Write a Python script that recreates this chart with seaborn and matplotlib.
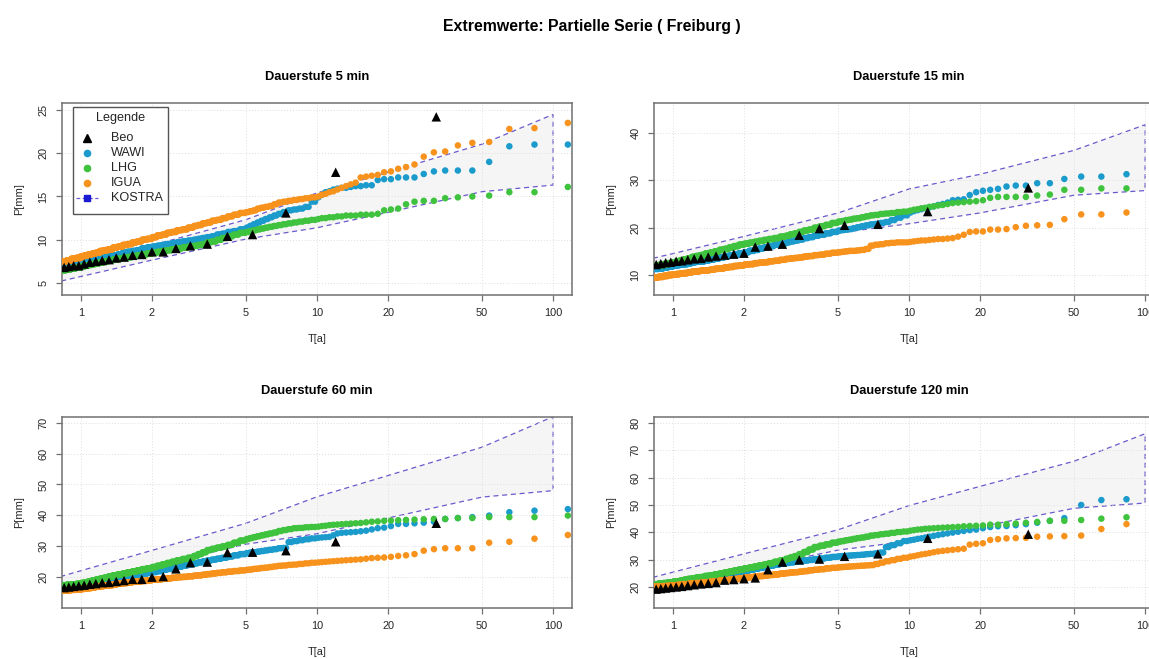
import numpy as np
import matplotlib
matplotlib.use("Agg")
import matplotlib.pyplot as plt
from matplotlib.lines import Line2D
from matplotlib.patches import Rectangle
from matplotlib.ticker import NullLocator
import seaborn as sns

# ------------------------------------------------------------------
# Data
# ------------------------------------------------------------------
durations = ["5 min", "15 min", "60 min", "120 min"]

# Model series (WAWI, LHG, IGUA): 300 years of partial series.
# Ranks 1-2 lie beyond the 120-year axis limit, listing starts at rank 3.
SIM_YEARS = 300.0
FIRST_RANK = 3
# ranks 3..30 are listed one by one ("tail"), ranks 31..362 as runs of
# equal depth ("runs") with these lengths
run_lengths = [2] * 15 + [4] * 10 + [6, 6, 6, 6, 6, 6, 7, 7] + \
              [8, 8, 8, 8, 9, 9] + [10] * 10 + [15, 15, 16, 16]

# Observations (Beo): 19 years
OBS_YEARS = 19.0

# --- Dauerstufe 5 min ---
wawi_tail_5 = [21.0, 21.0, 20.8, 19.0, 18.0, 18.0, 18.0, 17.9, 17.6, 17.2, 17.2, 17.2, 17.0, 17.0,
               16.9, 16.3, 16.3, 16.2, 16.2, 16.1, 16.0, 16.0, 15.9, 15.8, 15.6, 15.5, 15.2, 14.9]
wawi_runs_5 = [14.4, 13.8, 13.6, 13.5, 13.4, 13.2, 13.0, 12.8, 12.6, 12.4, 12.2, 12.0, 11.8, 11.6, 11.4,
               11.2, 11.0, 10.9, 10.7, 10.6, 10.4, 10.3, 10.2, 10.1, 10.0,
               9.9, 9.8, 9.7, 9.6, 9.5, 9.4, 9.3, 9.2,
               9.1, 9.0, 8.8, 8.7, 8.6, 8.5,
               8.3, 8.2, 8.1, 8.0, 7.9, 7.7, 7.6, 7.5, 7.4, 7.3,
               7.2, 7.1, 7.0, 6.9]
lhg_tail_5 = [16.1, 15.5, 15.5, 15.1, 15.0, 14.9, 14.8, 14.5, 14.5, 14.4, 14.1, 13.6, 13.5, 13.4,
              13.0, 12.9, 12.9, 12.9, 12.8, 12.8, 12.8, 12.7, 12.7, 12.6, 12.6, 12.5, 12.5, 12.4]
lhg_runs_5 = [12.3, 12.2, 12.1, 12.0, 11.9, 11.8, 11.7, 11.6, 11.5, 11.4, 11.3, 11.2, 11.1, 11.0, 10.9,
              10.8, 10.6, 10.4, 10.2, 10.0, 9.8, 9.7, 9.5, 9.4, 9.3,
              9.2, 9.1, 9.0, 8.9, 8.8, 8.7, 8.6, 8.5,
              8.4, 8.3, 8.2, 8.1, 8.0, 7.9,
              7.8, 7.7, 7.6, 7.5, 7.4, 7.3, 7.2, 7.1, 7.0, 6.9,
              6.8, 6.7, 6.6, 6.5]
igua_tail_5 = [23.5, 22.9, 22.8, 21.3, 21.2, 20.9, 20.2, 20.1, 19.6, 18.7, 18.4, 18.2, 17.9, 17.8,
               17.5, 17.4, 17.3, 17.2, 16.6, 16.4, 16.2, 16.0, 15.8, 15.6, 15.5, 15.3, 15.2, 15.0]
igua_runs_5 = [14.9, 14.8, 14.7, 14.6, 14.5, 14.4, 14.3, 14.1, 13.9, 13.8, 13.7, 13.6, 13.4, 13.3, 13.2,
               13.1, 12.9, 12.7, 12.5, 12.3, 12.2, 12.0, 11.9, 11.7, 11.6,
               11.4, 11.2, 11.1, 10.9, 10.8, 10.6, 10.5, 10.3,
               10.1, 10.0, 9.8, 9.7, 9.5, 9.4,
               9.2, 9.1, 8.9, 8.8, 8.7, 8.5, 8.4, 8.3, 8.2, 8.1,
               7.9, 7.8, 7.6, 7.5]
beo_5 = [24.2, 17.8, 13.1, 10.6, 10.4, 9.5, 9.3, 9.0, 8.6, 8.6, 8.3, 8.2, 8.0, 7.9, 7.7, 7.6,
         7.5, 7.4, 7.2, 7.0, 7.0, 6.9, 6.8]

# --- Dauerstufe 15 min ---
wawi_tail_15 = [31.6, 31.3, 30.8, 30.8, 30.3, 29.4, 29.4, 28.9, 28.9, 28.7, 28.2, 28.0, 27.8, 27.5,
                26.9, 26.0, 25.9, 25.8, 25.3, 25.0, 24.8, 24.5, 24.3, 24.1, 23.9, 23.7, 23.5, 23.2]
wawi_runs_15 = [22.6, 22.1, 21.6, 21.2, 21.0, 20.8, 20.7, 20.5, 20.3, 20.1, 19.9, 19.7, 19.6, 19.5, 19.4,
                19.1, 18.8, 18.5, 18.3, 18.0, 17.8, 17.5, 17.3, 17.1, 16.9,
                16.6, 16.4, 16.1, 15.8, 15.6, 15.3, 15.1, 14.8,
                14.6, 14.3, 14.1, 13.9, 13.7, 13.5,
                13.3, 13.1, 12.9, 12.8, 12.7, 12.5, 12.3, 12.2, 12.1, 12.0,
                11.8, 11.6, 11.4, 11.3]
lhg_tail_15 = [28.5, 28.3, 28.3, 28.0, 28.0, 27.0, 26.8, 26.5, 26.5, 26.5, 26.5, 26.3, 25.8, 25.6,
               25.5, 25.4, 25.3, 25.2, 25.0, 24.8, 24.7, 24.5, 24.4, 24.2, 24.1, 23.9, 23.8, 23.6]
lhg_runs_15 = [23.4, 23.3, 23.1, 23.0, 22.9, 22.7, 22.6, 22.4, 22.2, 22.0, 21.9, 21.7, 21.6, 21.4, 21.3,
               21.0, 20.6, 20.3, 20.0, 19.6, 19.4, 19.1, 18.8, 18.6, 18.3,
               18.1, 17.8, 17.6, 17.4, 17.2, 17.0, 16.8, 16.6,
               16.4, 16.1, 15.8, 15.5, 15.3, 15.0,
               14.7, 14.5, 14.2, 14.0, 13.8, 13.5, 13.3, 13.1, 12.9, 12.7,
               12.5, 12.3, 12.1, 12.0]
igua_tail_15 = [23.5, 23.2, 22.8, 22.8, 21.8, 20.6, 20.5, 20.4, 20.1, 19.7, 19.6, 19.6, 19.2, 19.2,
                19.1, 18.5, 18.1, 17.8, 17.7, 17.6, 17.6, 17.5, 17.4, 17.3, 17.3, 17.2, 17.1, 17.0]
igua_runs_15 = [16.9, 16.9, 16.8, 16.7, 16.5, 16.4, 16.2, 15.5, 15.3, 15.2, 15.1, 15.1, 15.0, 14.9, 14.8,
                14.7, 14.5, 14.3, 14.2, 14.0, 13.9, 13.7, 13.6, 13.5, 13.4,
                13.2, 13.0, 12.9, 12.7, 12.6, 12.5, 12.3, 12.2,
                12.0, 11.9, 11.7, 11.6, 11.4, 11.3,
                11.1, 11.0, 10.9, 10.8, 10.7, 10.5, 10.4, 10.3, 10.2, 10.1,
                10.0, 9.8, 9.6, 9.5]
beo_15 = [28.4, 23.4, 20.7, 20.5, 19.8, 18.4, 16.5, 16.1, 15.9, 14.6, 14.4, 14.2, 14.0, 13.8,
          13.5, 13.4, 13.2, 13.0, 12.9, 12.7, 12.6, 12.4, 12.2]

# --- Dauerstufe 60 min ---
wawi_tail_60 = [42.0, 41.5, 41.0, 39.9, 39.4, 39.1, 38.8, 37.9, 37.6, 37.4, 37.2, 37.2, 36.5, 36.0,
                35.8, 35.4, 35.0, 34.8, 34.6, 34.5, 34.4, 34.3, 34.1, 33.5, 33.0, 32.9, 32.8, 32.7]
wawi_runs_60 = [32.5, 32.2, 31.9, 31.6, 31.3, 29.4, 29.3, 29.0, 28.8, 28.6, 28.4, 28.2, 28.0, 27.9, 27.7,
                27.4, 27.0, 26.6, 26.2, 25.9, 25.6, 25.3, 25.0, 24.7, 24.4,
                24.1, 23.7, 23.3, 22.9, 22.6, 22.3, 21.9, 21.6,
                21.3, 21.0, 20.7, 20.5, 20.2, 19.9,
                19.6, 19.3, 19.0, 18.7, 18.4, 18.1, 17.8, 17.6, 17.3, 17.1,
                16.9, 16.8, 16.6, 16.5]
lhg_tail_60 = [39.9, 39.4, 39.4, 39.4, 39.1, 39.1, 38.8, 38.8, 38.7, 38.6, 38.5, 38.4, 38.3, 38.2,
               38.0, 37.9, 37.7, 37.5, 37.4, 37.3, 37.2, 37.1, 37.0, 36.9, 36.8, 36.6, 36.5, 36.3]
lhg_runs_60 = [36.2, 36.1, 35.9, 35.8, 35.5, 35.2, 34.9, 34.4, 34.1, 33.8, 33.5, 33.2, 32.9, 32.6, 32.3,
               31.8, 31.1, 30.4, 29.9, 29.5, 29.1, 28.7, 28.0, 27.4, 26.8,
               26.2, 25.8, 25.4, 24.9, 24.5, 24.1, 23.6, 23.2,
               22.8, 22.5, 22.1, 21.8, 21.5, 21.1,
               20.8, 20.5, 20.1, 19.7, 19.4, 19.1, 18.8, 18.5, 18.2, 18.0,
               17.7, 17.6, 17.4, 17.3]
igua_tail_60 = [33.6, 32.4, 31.4, 31.1, 29.3, 29.3, 29.3, 29.0, 28.5, 27.4, 27.0, 26.8, 26.5, 26.3,
                26.2, 26.1, 25.9, 25.7, 25.6, 25.5, 25.4, 25.3, 25.2, 25.1, 25.0, 24.9, 24.8, 24.7]
igua_runs_60 = [24.6, 24.4, 24.2, 24.0, 23.9, 23.7, 23.6, 23.4, 23.2, 23.0, 22.9, 22.7, 22.6, 22.4, 22.3,
                22.1, 21.9, 21.7, 21.5, 21.3, 21.1, 20.9, 20.7, 20.5, 20.4,
                20.2, 20.0, 19.9, 19.7, 19.5, 19.4, 19.2, 19.1,
                18.9, 18.7, 18.5, 18.4, 18.2, 18.0,
                17.8, 17.6, 17.3, 17.2, 17.0, 16.8, 16.6, 16.4, 16.2, 16.1,
                15.9, 15.8, 15.7, 15.5]
beo_60 = [37.4, 31.4, 28.5, 28.0, 27.9, 24.8, 24.6, 22.6, 20.1, 19.9, 19.2, 19.2, 18.8, 18.5,
          18.2, 18.1, 17.8, 17.6, 17.3, 17.1, 16.9, 16.7, 16.5]

# --- Dauerstufe 120 min ---
wawi_tail_120 = [52.5, 52.1, 51.8, 50.0, 45.2, 44.2, 43.5, 43.0, 42.6, 42.3, 42.2, 41.9, 41.5, 41.0,
                 40.8, 40.5, 40.2, 39.9, 39.6, 39.3, 39.0, 38.7, 38.4, 38.1, 37.8, 37.6, 37.3, 37.1]
wawi_runs_120 = [36.8, 36.0, 35.3, 34.6, 32.6, 32.3, 32.1, 32.0, 31.8, 31.7, 31.6, 31.5, 31.4, 31.3, 31.2,
                 31.0, 30.7, 30.4, 30.2, 29.9, 29.7, 29.4, 29.2, 29.0, 28.8,
                 28.5, 28.2, 27.8, 27.4, 27.0, 26.7, 26.3, 25.9,
                 25.5, 25.2, 24.9, 24.6, 24.3, 24.0,
                 23.7, 23.5, 23.2, 22.9, 22.7, 22.4, 22.1, 21.9, 21.7, 21.5,
                 21.3, 21.1, 20.9, 20.8]
lhg_tail_120 = [46.0, 45.5, 45.0, 44.5, 44.2, 44.2, 43.8, 43.5, 43.2, 43.0, 42.8, 42.8, 42.5, 42.4,
                42.3, 42.2, 42.0, 41.9, 41.8, 41.7, 41.6, 41.5, 41.4, 41.3, 41.1, 41.0, 40.8, 40.6]
lhg_runs_120 = [40.3, 40.1, 39.8, 39.5, 39.3, 39.0, 38.8, 38.4, 38.1, 37.9, 37.6, 37.3, 37.1, 36.8, 36.6,
                36.2, 35.6, 35.1, 34.6, 33.7, 32.8, 32.0, 31.3, 30.8, 30.3,
                29.7, 29.2, 28.7, 28.2, 27.9, 27.5, 27.1, 26.8,
                26.4, 26.0, 25.6, 25.3, 24.9, 24.6,
                24.2, 24.0, 23.6, 23.4, 23.1, 22.9, 22.6, 22.3, 22.1, 21.9,
                21.7, 21.4, 21.2, 21.0]
igua_tail_120 = [43.5, 43.0, 41.2, 38.8, 38.6, 38.5, 38.4, 38.0, 37.9, 37.8, 37.5, 37.2, 36.0, 35.8,
                 35.5, 34.0, 33.8, 33.6, 33.4, 33.2, 33.0, 32.7, 32.4, 32.1, 31.9, 31.6, 31.3, 31.1]
igua_runs_120 = [30.7, 30.3, 29.8, 29.4, 28.9, 28.4, 28.0, 27.9, 27.8, 27.7, 27.6, 27.5, 27.4, 27.3, 27.2,
                 27.0, 26.8, 26.5, 26.3, 26.1, 25.8, 25.6, 25.4, 25.3, 25.1,
                 24.9, 24.6, 24.4, 24.2, 24.0, 23.8, 23.6, 23.4,
                 23.2, 22.9, 22.7, 22.5, 22.3, 22.1,
                 21.9, 21.7, 21.5, 21.4, 21.3, 21.1, 20.9, 20.8, 20.7, 20.6,
                 20.4, 20.3, 20.2, 20.0]
beo_120 = [39.3, 37.8, 32.1, 31.2, 30.2, 29.9, 29.1, 26.3, 23.3, 23.0, 22.7, 22.5, 21.6, 21.3,
           21.1, 20.8, 20.5, 20.2, 20.0, 19.8, 19.6, 19.4, 19.2]

# KOSTRA design depths with tolerance band
kostra_T = [0.5, 1, 2, 5, 10, 20, 50, 100]
kostra_tol = [0.10, 0.10, 0.10, 0.10, 0.15, 0.15, 0.15, 0.20]
kostra_5 = [4.3, 6.4, 8.5, 11.2, 13.4, 15.5, 18.3, 20.4]
kostra_15 = [10.0, 13.2, 16.5, 21.0, 24.5, 27.2, 31.6, 34.8]
kostra_60 = [14.0, 20.0, 26.0, 34.0, 40.0, 46.0, 54.0, 60.0]
kostra_120 = [17.0, 23.1, 29.2, 37.2, 43.3, 49.4, 57.4, 63.4]

x_ticks = [1, 2, 5, 10, 20, 50, 100]
y_ticks = [[5, 10, 15, 20, 25], [10, 20, 30, 40],
           [20, 30, 40, 50, 60, 70], [20, 30, 40, 50, 60, 70, 80]]
y_limits = [(3.62, 25.8), (5.77, 46.35), (9.9, 71.9), (12.3, 82.2)]

panels = [
    (wawi_tail_5, wawi_runs_5, lhg_tail_5, lhg_runs_5, igua_tail_5, igua_runs_5, beo_5, kostra_5),
    (wawi_tail_15, wawi_runs_15, lhg_tail_15, lhg_runs_15, igua_tail_15, igua_runs_15, beo_15, kostra_15),
    (wawi_tail_60, wawi_runs_60, lhg_tail_60, lhg_runs_60, igua_tail_60, igua_runs_60, beo_60, kostra_60),
    (wawi_tail_120, wawi_runs_120, lhg_tail_120, lhg_runs_120, igua_tail_120, igua_runs_120, beo_120, kostra_120),
]

# ------------------------------------------------------------------
# Style
# ------------------------------------------------------------------
sns.set_theme(style="white")
plt.rcParams["font.family"] = ["Liberation Sans", "DejaVu Sans"]

C_WAWI = "#1b9bcc"
C_LHG = "#3fc23d"
C_IGUA = "#f7921c"
C_BEO = "black"
C_KOSTRA = "#6a5acd"
C_KOSTRA_PT = "#1a1ad2"
C_FRAME = "#707070"
C_TEXT = "#262626"

W, H = 1149, 659
fig = plt.figure(figsize=(W / 100, H / 100), dpi=100)
fig.patch.set_facecolor("white")

# axes boxes in pixel coordinates (left, top, right, bottom)
boxes = [(62, 103, 572, 295), (654, 103, 1164, 295),
         (62, 417, 572, 608), (654, 417, 1164, 608)]


def px(x, y):
    return x / W, 1 - y / H


def return_periods(n_values, years, first_rank):
    rank = np.arange(first_rank, first_rank + n_values)
    return (years + 0.2) / (rank - 0.4)


def sim_series(tail, runs):
    assert len(runs) == len(run_lengths)
    values = np.concatenate([tail, np.repeat(runs, run_lengths)])
    return return_periods(len(values), SIM_YEARS, FIRST_RANK), values


fig.text(*px(592, 31), "Extremwerte: Partielle Serie ( Freiburg )",
         ha="center", va="baseline", fontsize=11.4, fontweight="bold", color="black")

for k, (box, data) in enumerate(zip(boxes, panels)):
    x0, y0, x1, y1 = box
    ax = fig.add_axes([x0 / W, 1 - y1 / H, (x1 - x0) / W, (y1 - y0) / H])
    ax.set_facecolor("white")
    ax.set_xscale("log")
    ax.set_xlim(10 ** -0.08, 10 ** 2.08)
    ax.set_ylim(*y_limits[k])

    wt, wr, lt, lr, it, ir, beo, kostra = data

    # dotted reference grid
    for t in x_ticks:
        ax.axvline(t, color="#dedede", lw=0.7, ls=(0, (1, 2)), zorder=1.5)
    for v in y_ticks[k]:
        ax.axhline(v, color="#dedede", lw=0.7, ls=(0, (1, 2)), zorder=1.5)

    # KOSTRA tolerance band
    K = np.asarray(kostra)
    tol = np.asarray(kostra_tol)
    T = np.asarray(kostra_T, dtype=float)
    ax.fill(np.r_[T, T[::-1]], np.r_[K * (1 + tol), (K * (1 - tol))[::-1]],
            facecolor="#f5f5f5", edgecolor=C_KOSTRA, linestyle=(0, (4, 3)),
            linewidth=0.9, zorder=1)

    for tail, runs, col in ((wt, wr, C_WAWI), (lt, lr, C_LHG), (it, ir, C_IGUA)):
        tx, vals = sim_series(tail, runs)
        sns.scatterplot(x=tx, y=vals, ax=ax, color=col, s=22, linewidth=0,
                        edgecolor="none", zorder=3, legend=False)

    bx = return_periods(len(beo), OBS_YEARS, 1)
    sns.scatterplot(x=bx, y=beo, ax=ax, color=C_BEO, marker="^", s=46,
                    linewidth=0, edgecolor="none", zorder=4, legend=False)

    # axes decoration
    ax.set_xticks(x_ticks)
    ax.set_xticklabels([str(t) for t in x_ticks])
    ax.xaxis.set_minor_locator(NullLocator())
    ax.set_yticks(y_ticks[k])
    ax.set_yticklabels([str(v) for v in y_ticks[k]])
    ax.tick_params(axis="both", direction="out", length=4.1, width=0.9,
                   color=C_FRAME, labelsize=7.9, labelcolor=C_TEXT)
    ax.tick_params(axis="x", pad=5.2, bottom=True)
    ax.tick_params(axis="y", pad=5.6, left=True, labelrotation=90)
    plt.setp(ax.get_yticklabels(), va="center")
    for sp in ax.spines.values():
        sp.set_color(C_FRAME)
        sp.set_linewidth(1.1)
        sp.set_visible(True)
    ax.set_xlabel("")
    ax.set_ylabel("")

    fig.text(*px((x0 + x1) / 2, y0 - 23.4), "Dauerstufe " + durations[k],
             ha="center", va="baseline", fontsize=9.3, fontweight="bold", color="black")
    fig.text(*px((x0 + x1) / 2, y1 + 44), "T[a]", ha="center", va="center",
             fontsize=7.9, color=C_TEXT)
    fig.text(*px(x0 - 43, (y0 + y1) / 2), "P[mm]", ha="center", va="center",
             rotation=90, fontsize=7.9, color=C_TEXT)

# ------------------------------------------------------------------
# Legend box in the first panel
# ------------------------------------------------------------------
lx0, ly0, lx1, ly1 = 73, 107, 168, 214
fig.add_artist(Rectangle(px(lx0, ly1), (lx1 - lx0) / W, (ly1 - ly0) / H,
                         transform=fig.transFigure, facecolor="white",
                         edgecolor="#555555", linewidth=1.0, zorder=20))
fig.text(*px((lx0 + lx1) / 2, 118), "Legende", ha="center", va="center",
         fontsize=9.1, color=C_TEXT, zorder=21)

legend_rows = [
    ("Beo", dict(ls="none", marker="^", color=C_BEO, markersize=5.5)),
    ("WAWI", dict(ls="none", marker="o", color=C_WAWI, markersize=4.5)),
    ("LHG", dict(ls="none", marker="o", color=C_LHG, markersize=4.5)),
    ("IGUA", dict(ls="none", marker="o", color=C_IGUA, markersize=4.5)),
]
row_y = [138, 153, 168, 183, 198]
for (label, style), yy in zip(legend_rows, row_y):
    mx, my = px(87, yy)
    fig.add_artist(Line2D([mx], [my], transform=fig.transFigure, zorder=21, **style))
    fig.text(*px(111, yy), label, ha="left", va="center", fontsize=9.1,
             color=C_TEXT, zorder=21)

# KOSTRA: dashed line with square marker
ka, kb = px(76, row_y[4]), px(98, row_y[4])
fig.add_artist(Line2D([ka[0], kb[0]], [ka[1], kb[1]], transform=fig.transFigure,
                      color=C_KOSTRA, ls=(0, (3, 2)), lw=0.9, zorder=21))
km = px(87, row_y[4])
fig.add_artist(Line2D([km[0]], [km[1]], transform=fig.transFigure, ls="none",
                      marker="s", markersize=4.5, color=C_KOSTRA_PT, zorder=22))
fig.text(*px(111, row_y[4]), "KOSTRA", ha="left", va="center", fontsize=9.1,
         color=C_TEXT, zorder=21)

fig.savefig("out.png", dpi=100, facecolor="white")
